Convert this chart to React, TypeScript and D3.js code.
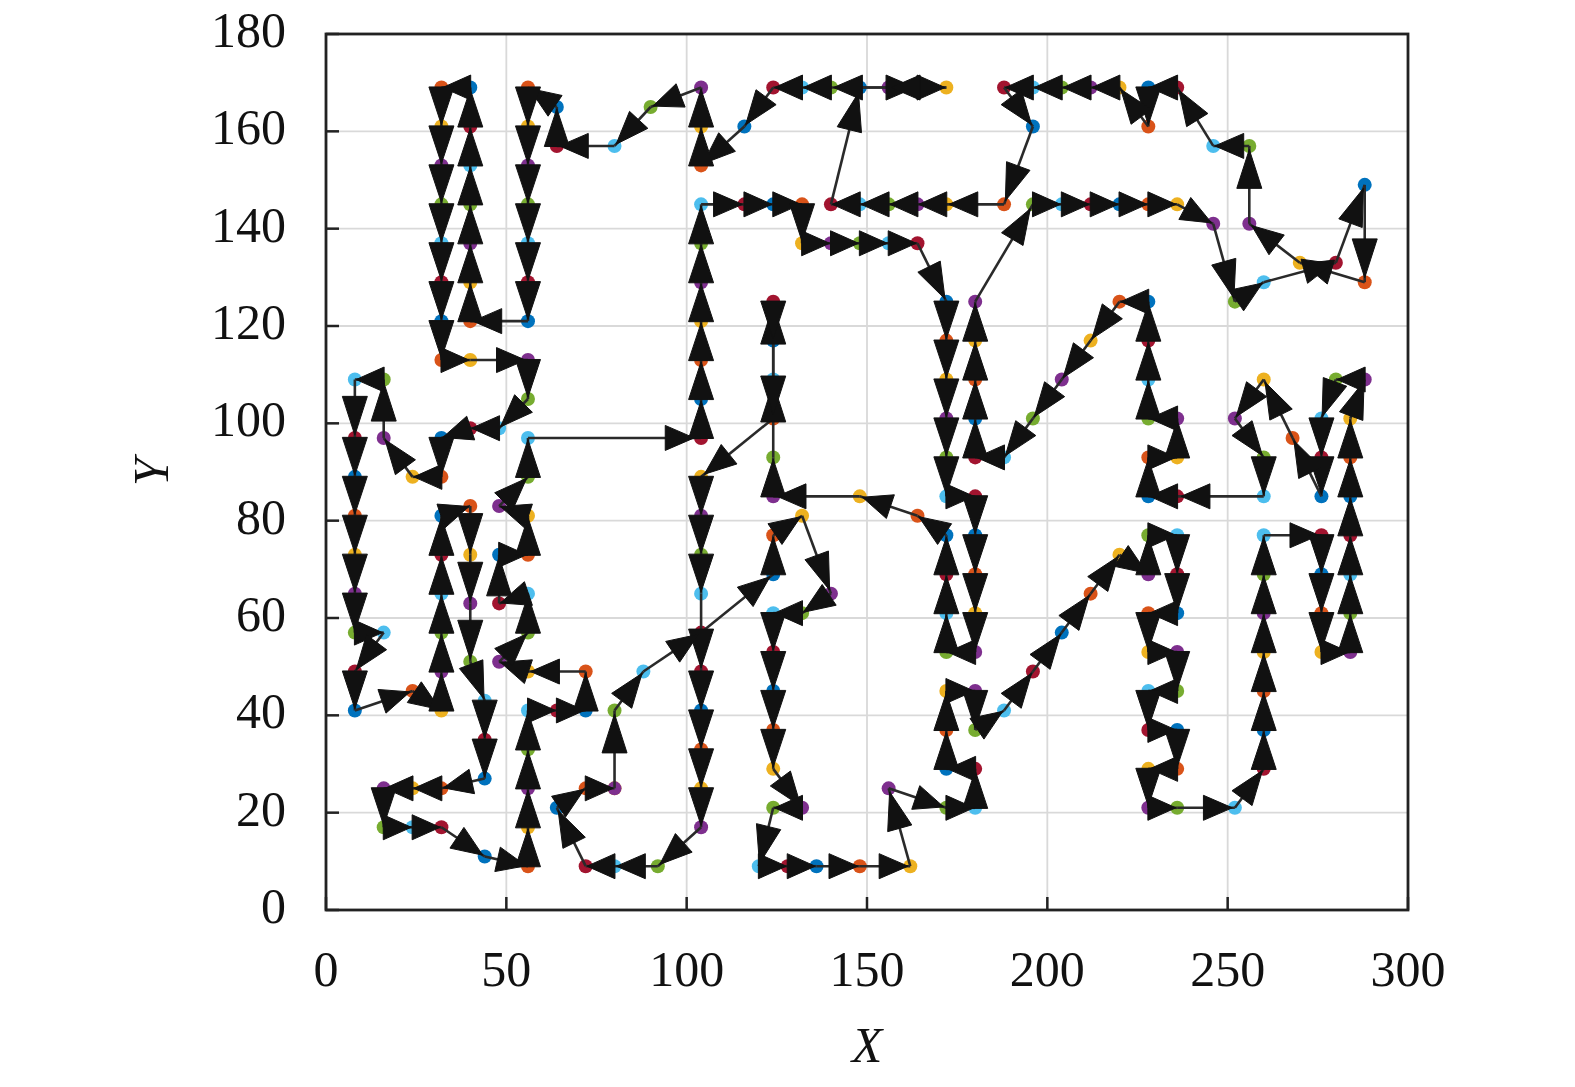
import React from "react";
import * as d3 from "d3";

// a280-style city coordinates, in tour order (tour closes back to the first city)
const cityX = [
  288,288,270,256,256,246,236,228,228,220,
  212,204,196,188,196,188,172,164,156,148,
  140,148,164,172,156,140,132,124,116,104,
  104,104,90,80,64,64,56,56,56,56,
  56,56,56,40,40,40,40,40,40,40,
  32,32,32,32,32,32,32,32,40,56,
  56,48,40,32,32,24,16,16,8,8,
  8,8,8,8,8,16,8,8,24,32,
  32,32,32,32,32,40,40,40,40,44,
  44,44,32,24,16,16,24,32,44,56,
  56,56,56,56,64,72,72,56,48,56,
  56,48,48,56,56,48,56,56,104,104,
  104,104,104,104,104,116,124,132,132,140,
  148,156,164,172,172,172,172,172,172,180,
  180,180,180,180,172,172,172,172,164,148,
  124,124,124,124,124,124,104,104,104,104,
  104,104,104,104,104,92,80,72,64,72,
  80,80,80,88,104,124,124,132,140,132,
  124,124,124,124,124,132,124,120,128,136,
  148,162,156,172,180,180,172,172,172,180,
  180,188,196,204,212,220,228,228,236,236,
  236,228,228,236,236,228,228,236,236,228,
  228,236,252,260,260,260,260,260,260,260,
  276,276,276,276,284,284,284,284,284,284,
  284,288,280,276,276,276,268,260,252,260,
  260,236,228,228,236,236,228,228,228,228,
  220,212,204,196,188,180,180,180,180,180,
  196,204,212,220,228,236,246,252,260,280,
];

const cityY = [
  149,129,133,141,157,157,169,169,161,169,
  169,169,169,169,161,145,145,145,145,145,
  145,169,169,169,169,169,169,169,161,153,
  161,169,165,157,157,165,169,161,153,145,
  137,129,121,121,129,137,145,153,161,169,
  169,161,153,145,137,129,121,113,113,113,
  105,99,99,97,89,89,97,109,109,97,
  89,81,73,65,57,57,49,41,45,41,
  49,57,65,73,81,83,73,63,51,43,
  35,27,25,25,25,17,17,17,11,9,
  17,25,33,41,41,41,49,49,51,57,
  65,63,73,73,81,83,89,97,97,105,
  113,121,129,137,145,145,145,145,137,137,
  137,137,137,125,117,109,101,93,85,85,
  77,69,61,53,53,61,69,77,81,85,
  85,93,109,125,117,101,89,81,73,65,
  49,41,33,25,17,9,9,9,21,25,
  25,25,41,49,57,69,77,81,65,61,
  61,53,45,37,29,21,21,9,9,9,
  9,9,25,21,21,29,29,37,45,45,
  37,41,49,57,65,73,69,77,77,69,
  61,61,53,53,45,45,37,37,29,29,
  21,21,21,29,37,45,53,61,69,77,
  77,69,61,53,53,61,69,77,85,93,
  101,109,109,101,93,85,97,109,101,93,
  85,85,85,93,93,101,101,109,117,125,
  125,117,109,101,93,93,101,109,117,125,
  145,145,145,145,145,145,141,125,129,133,
];

const pointColors = ["#0072BD", "#D95319", "#EDB120", "#7E2F8E", "#77AC30", "#4DBEEE", "#A2142F"];

const xTicks = [0, 50, 100, 150, 200, 250, 300];
const yTicks = [0, 20, 40, 60, 80, 100, 120, 140, 160, 180];
const xLabel = "X";
const yLabel = "Y";

const W = 1575;
const H = 1087;
const L = 326, R = 1408, T = 34, B = 910;
const FONT = "'Liberation Serif', 'Times New Roman', serif";

export default function App() {
  const x = d3.scaleLinear().domain([0, 300]).range([L, R]);
  const y = d3.scaleLinear().domain([0, 180]).range([B, T]);

  const pts = cityX.map((cx, i) => ({ dx: cx, dy: cityY[i], px: x(cx), py: y(cityY[i]), i }));
  const n = pts.length;

  const segs = pts.map((p, i) => {
    const q = pts[(i + 1) % n];
    return { p, q, key: i };
  });

  const heads = segs
    .map((s) => {
      const ddx = s.q.dx - s.p.dx;
      const ddy = s.q.dy - s.p.dy;
      const dlen = Math.hypot(ddx, ddy);
      if (dlen < 0.5) return null;
      // head length measured in data units, then mapped to pixels
      const dataHead = Math.min(8, dlen * 0.97);
      const frac = dataHead / dlen;
      const pdx = s.q.px - s.p.px;
      const pdy = s.q.py - s.p.py;
      const plen = Math.hypot(pdx, pdy);
      const ux = pdx / plen, uy = pdy / plen;
      const hl = plen * frac;
      const off = Math.min(7, 0.045 * plen);
      const hw = 12.5;
      const tx = s.q.px - ux * off, ty = s.q.py - uy * off;
      const bx = tx - ux * hl, by = ty - uy * hl;
      const path = d3.path();
      path.moveTo(tx, ty);
      path.lineTo(bx - uy * hw, by + ux * hw);
      path.lineTo(bx + uy * hw, by - ux * hw);
      path.closePath();
      return { d: path.toString(), key: s.key };
    })
    .filter(Boolean) as { d: string; key: number }[];

  return (
    <div style={{ position: "absolute", left: 0, top: 0 }}>
      <svg width={W} height={H} style={{ display: "block", background: "#fff" }}>
        <rect x={0} y={0} width={W} height={H} fill="#fff" />
        {/* grid */}
        {xTicks.map((t) => (
          <line key={"gx" + t} x1={x(t)} x2={x(t)} y1={T} y2={B} stroke="#d9d9d9" strokeWidth={1.8} />
        ))}
        {yTicks.map((t) => (
          <line key={"gy" + t} x1={L} x2={R} y1={y(t)} y2={y(t)} stroke="#d9d9d9" strokeWidth={1.8} />
        ))}
        {/* city markers */}
        {pts.map((p) => (
          <circle key={"c" + p.i} cx={p.px} cy={p.py} r={7} fill={pointColors[p.i % pointColors.length]} />
        ))}
        {/* tour stems */}
        {segs.map((s) => (
          <line key={"s" + s.key} x1={s.p.px} y1={s.p.py} x2={s.q.px} y2={s.q.py} stroke="#2a2a2a" strokeWidth={2.6} />
        ))}
        {/* arrow heads */}
        {heads.map((h) => (
          <path key={"h" + h.key} d={h.d} fill="#111" stroke="#111" strokeWidth={1} strokeLinejoin="round" />
        ))}
        {/* ticks */}
        {xTicks.map((t) => (
          <line key={"tx" + t} x1={x(t)} x2={x(t)} y1={B} y2={B - 13} stroke="#222" strokeWidth={2.5} />
        ))}
        {yTicks.map((t) => (
          <line key={"ty" + t} x1={L} x2={L + 13} y1={y(t)} y2={y(t)} stroke="#222" strokeWidth={2.5} />
        ))}
        {/* box */}
        <rect x={L} y={T} width={R - L} height={B - T} fill="none" stroke="#222" strokeWidth={2.8} />
        {/* tick labels */}
        {xTicks.map((t) => (
          <text key={"lx" + t} x={x(t)} y={986} textAnchor="middle" fontFamily={FONT} fontSize={50} fill="#111">
            {t}
          </text>
        ))}
        {yTicks.map((t) => (
          <text key={"ly" + t} x={286} y={y(t) + 13} textAnchor="end" fontFamily={FONT} fontSize={50} fill="#111">
            {t}
          </text>
        ))}
        {/* axis labels */}
        <text x={(L + R) / 2} y={1062} textAnchor="middle" fontFamily={FONT} fontStyle="italic" fontSize={50} fill="#111">
          {xLabel}
        </text>
        <text
          transform={`translate(168, ${(T + B) / 2}) rotate(-90)`}
          textAnchor="middle"
          fontFamily={FONT}
          fontStyle="italic"
          fontSize={50}
          fill="#111"
        >
          {yLabel}
        </text>
      </svg>
    </div>
  );
}
